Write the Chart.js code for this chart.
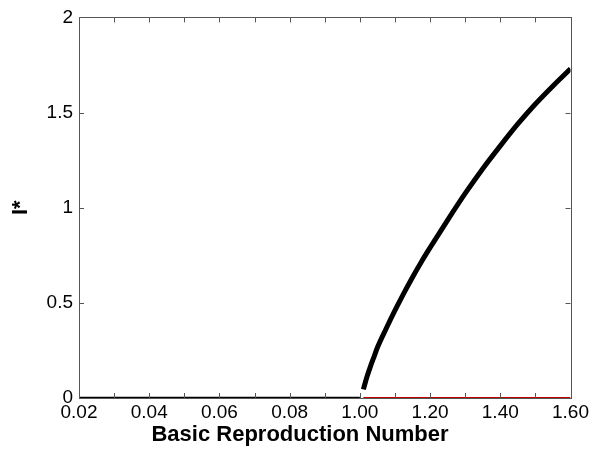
<!DOCTYPE html>
<html lang="en"><head>
<meta charset="UTF-8">
<title>Endemic equilibrium vs R0</title>
<script src="https://cdn.jsdelivr.net/npm/chart.js"></script>
<style>
  body { margin: 0; background: #fff; }
  #chart { display: block; }
</style>
</head>
<body>
<canvas id="chart" width="592" height="454"></canvas>
<script>
  // tick labels on the x axis (evenly spaced, as in the original figure)
  const xTickLabels = ['0.02', '0.04', '0.06', '0.08', '1.00', '1.20', '1.40', '1.60'];
  const yTicks = [0, 0.5, 1, 1.5, 2];

  // disease-free equilibrium, stable part (black)
  const dfeStableR0 = [0.02, 0.04, 0.06, 0.08, 1.00];
  const dfeStableI = [0, 0, 0, 0, 0];

  // disease-free equilibrium, unstable part (red)
  const dfeUnstableR0 = [1.01, 1.60];
  const dfeUnstableI = [0, 0];

  // endemic equilibrium I*
  const endemicR0 = [1.01, 1.02, 1.03, 1.04, 1.05, 1.075, 1.10, 1.125, 1.15, 1.175, 1.20, 1.25, 1.30, 1.35, 1.40, 1.45, 1.50, 1.55, 1.60];
  const endemicI  = [0.045, 0.11, 0.165, 0.215, 0.265, 0.365, 0.46, 0.55, 0.635, 0.715, 0.79, 0.935, 1.075, 1.205, 1.325, 1.44, 1.545, 1.64, 1.73];

  // the axis is piecewise: 0.02..0.08 step 0.02, then 1.00..1.60 step 0.2
  function toPos(r) {
    if (r <= 0.08) return (r - 0.02) / 0.02;
    return 4 + (r - 1) / 0.2;
  }
  const pts = (xs, ys) => xs.map((r, i) => ({ x: toPos(r), y: ys[i] }));

  const font = '"Liberation Sans", Arial, sans-serif';

  const frameAndTicks = {
    id: 'frameAndTicks',
    afterDraw(chart) {
      const { ctx, chartArea: a, scales: { x, y } } = chart;
      const len = 5;
      ctx.save();
      ctx.strokeStyle = '#555';
      ctx.lineWidth = 1;
      ctx.beginPath();
      x.ticks.forEach(t => {
        const px = Math.round(x.getPixelForValue(t.value)) + 0.5;
        ctx.moveTo(px, a.bottom); ctx.lineTo(px, a.bottom - len);
        ctx.moveTo(px, a.top); ctx.lineTo(px, a.top + len);
      });
      y.ticks.forEach(t => {
        const py = Math.round(y.getPixelForValue(t.value)) + 0.5;
        ctx.moveTo(a.left, py); ctx.lineTo(a.left + len, py);
        ctx.moveTo(a.right, py); ctx.lineTo(a.right - len, py);
      });
      ctx.stroke();
      ctx.strokeRect(Math.round(a.left) + 0.5, Math.round(a.top) + 0.5,
                     Math.round(a.right - a.left), Math.round(a.bottom - a.top));
      // x axis title (sits left of the axis centre in the original)
      ctx.fillStyle = '#000';
      ctx.font = 'bold 22px ' + font;
      ctx.textAlign = 'center';
      ctx.textBaseline = 'middle';
      ctx.fillText('Basic Reproduction Number', 300, 435);
      ctx.restore();
    }
  };

  new Chart(document.getElementById('chart'), {
    type: 'line',
    data: {
      datasets: [
        {
          data: pts(dfeStableR0, dfeStableI),
          borderColor: '#000',
          borderWidth: 2.5,
          pointRadius: 0
        },
        {
          data: pts(dfeUnstableR0, dfeUnstableI),
          borderColor: '#c00000',
          borderWidth: 2,
          pointRadius: 0
        },
        {
          data: pts(endemicR0, endemicI),
          borderColor: '#000',
          borderWidth: 5,
          pointRadius: 0,
          cubicInterpolationMode: 'monotone'
        }
      ]
    },
    options: {
      responsive: false,
      animation: false,
      devicePixelRatio: 1,
      layout: { padding: { top: 15, right: 20, left: 0, bottom: 0 } },
      plugins: { legend: { display: false }, tooltip: { enabled: false } },
      scales: {
        x: {
          type: 'linear',
          min: 0,
          max: xTickLabels.length - 1,
          grid: { display: false, drawTicks: false },
          border: { display: false },
          ticks: {
            stepSize: 0.5,
            autoSkip: false,
            maxRotation: 0,
            padding: 3,
            color: '#000',
            font: { family: font, size: 19 },
            callback: v => Number.isInteger(v) ? xTickLabels[v] : ''
          },
          afterFit: s => { s.height = 56; }
        },
        y: {
          min: yTicks[0],
          max: yTicks[yTicks.length - 1],
          grid: { display: false, drawTicks: false },
          border: { display: false },
          ticks: {
            stepSize: 0.5,
            padding: 6,
            color: '#000',
            font: { family: font, size: 19 },
            callback: v => String(v)
          },
          title: {
            display: true,
            text: 'I*',
            color: '#000',
            font: { family: font, size: 22, weight: 'bold' },
            padding: { top: 8, bottom: 0 }
          },
          afterFit: s => { s.width = 79; }
        }
      }
    },
    plugins: [frameAndTicks]
  });
</script>
</body></html>
